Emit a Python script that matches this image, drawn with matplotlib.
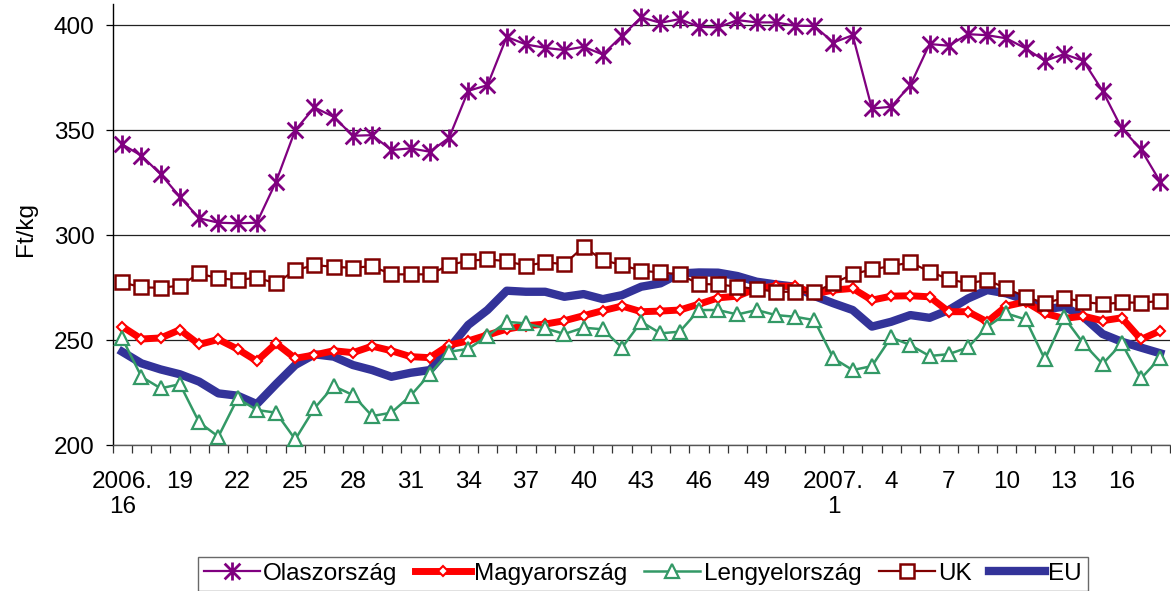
import matplotlib
matplotlib.use('Agg')
import matplotlib.pyplot as plt
from matplotlib.path import Path
import numpy as np

# ----------------------------------------------------------------------------------------------------------------------
#  DATA  (weekly prices, Ft/kg, 2006 week 16 - 2007 week 18)
# ----------------------------------------------------------------------------------------------------------------------
weeks_2006 = list(range(16, 53))
weeks_2007 = list(range(1, 19))

olaszorszag = [343.2, 337.8, 329.0, 318.2, 308.0, 305.9, 305.6, 305.9, 325.4, 350.0,
               360.8, 356.3, 347.3, 347.6, 340.5, 341.3, 339.7, 346.3, 368.7, 371.4,
               394.4, 390.8, 389.2, 388.1, 389.7, 386.0, 394.9, 403.7, 401.1, 402.9,
               399.2, 398.9, 402.4, 401.3, 401.3, 399.7, 399.6, 391.7, 395.2, 360.3,
               361.1, 371.4, 391.0, 390.2, 395.7, 395.2, 393.7, 388.9, 383.0, 386.2,
               383.0, 368.7, 350.8, 340.8, 325.4]

magyarorszag = [256.4, 250.5, 251.0, 254.9, 247.9, 250.3, 245.7, 240.0, 248.4, 241.3,
                242.9, 244.9, 244.0, 247.1, 244.9, 242.1, 241.6, 247.6, 249.6, 252.4,
                255.2, 256.8, 257.6, 259.2, 261.6, 264.0, 266.2, 263.5, 263.8, 264.3,
                267.1, 270.1, 270.9, 274.6, 275.7, 275.7, 272.0, 273.8, 274.6, 269.0,
                270.9, 271.1, 270.6, 263.5, 263.5, 258.7, 266.2, 268.2, 262.7, 260.3,
                261.4, 259.2, 260.6, 250.3, 254.4]

lengyelorszag = [250.8, 232.5, 227.0, 229.0, 210.8, 204.0, 222.2, 216.7, 215.4, 202.7,
                 217.5, 228.1, 223.8, 213.8, 215.4, 223.5, 233.8, 244.4, 245.8, 251.9,
                 258.7, 257.9, 255.6, 252.9, 255.9, 255.1, 246.4, 258.7, 253.2, 254.0,
                 264.3, 264.3, 262.2, 264.3, 261.9, 261.1, 259.5, 241.3, 235.7, 237.6,
                 251.3, 247.6, 242.4, 243.3, 246.5, 256.3, 262.7, 259.8, 240.8, 260.8,
                 248.4, 238.6, 248.4, 231.7, 241.6]

uk = [277.5, 275.1, 274.9, 275.9, 281.7, 279.4, 278.6, 279.7, 277.0, 283.3,
      285.7, 284.9, 284.4, 285.2, 281.3, 281.3, 281.3, 285.7, 287.8, 288.4,
      287.6, 285.4, 287.0, 286.2, 294.4, 288.1, 285.7, 283.0, 282.2, 281.3,
      276.7, 276.5, 275.4, 274.3, 273.0, 273.0, 272.8, 277.0, 281.3, 283.7,
      285.2, 287.0, 282.6, 279.0, 277.0, 278.6, 274.6, 270.6, 267.5, 270.1,
      268.2, 267.1, 267.9, 267.8, 268.6]

eu = [244.4, 238.9, 236.0, 233.7, 230.2, 224.6, 223.5, 219.5, 229.0, 238.1,
      243.2, 242.1, 238.1, 235.7, 232.5, 234.4, 235.7, 246.0, 257.2, 264.3,
      273.5, 273.0, 273.0, 270.6, 271.9, 269.5, 271.4, 275.4, 277.0, 281.7,
      282.2, 282.1, 280.5, 277.8, 276.5, 275.4, 271.0, 267.5, 264.3, 256.4,
      258.7, 261.9, 260.6, 264.3, 269.8, 273.8, 272.2, 269.0, 264.6, 265.9,
      261.1, 252.9, 249.2, 246.4, 243.7]

# ----------------------------------------------------------------------------------------------------------------------
#  FIGURE
# ----------------------------------------------------------------------------------------------------------------------
plt.rcParams['font.family'] = ['Liberation Sans', 'DejaVu Sans']
font_size = 17.5

x = np.arange(len(weeks_2006) + len(weeks_2007))

# category labels, every third week, restarting at the turn of the year
label_pos = []
label_txt = []
for k, w in enumerate(weeks_2006):
    if k % 3 == 0 and w <= 49:
        label_pos.append(k)
        label_txt.append('2006.\n%d' % w if k == 0 else str(w))
for k, w in enumerate(weeks_2007):
    if k % 3 == 0:
        label_pos.append(len(weeks_2006) + k)
        label_txt.append('2007.\n%d' % w if k == 0 else str(w))

# asterisk marker (x plus vertical bar)
star = Path([(-1, -1), (1, 1), (-1, 1), (1, -1), (0, -1.15), (0, 1.15)],
            [Path.MOVETO, Path.LINETO] * 3)

fig = plt.figure(figsize=(11.71, 5.91), dpi=100)
ax = fig.add_axes([0.0962, 0.247, 0.9028, 0.746])

ax.plot(x, olaszorszag, color='#800080', linewidth=1.6, marker=star, markersize=13,
        markeredgewidth=2.0, markerfacecolor='none', label='Olaszország', zorder=6, clip_on=False)
ax.plot(x, magyarorszag, color='#FF0000', linewidth=5, marker='D', markersize=5.5,
        markerfacecolor='white', markeredgecolor='#FF0000', markeredgewidth=1.5,
        label='Magyarország', zorder=3, clip_on=False)
ax.plot(x, lengyelorszag, color='#339966', linewidth=1.8, marker='^', markersize=10,
        markerfacecolor='white', markeredgecolor='#339966', markeredgewidth=1.6,
        label='Lengyelország', zorder=4, clip_on=False)
ax.plot(x, uk, color='#800000', linewidth=1.6, marker='s', markersize=10,
        markerfacecolor='white', markeredgecolor='#800000', markeredgewidth=1.8,
        label='UK', zorder=5, clip_on=False)
ax.plot(x, eu, color='#333399', linewidth=6, label='EU', zorder=2, clip_on=False)

ax.set_xlim(-0.5, len(x) - 0.5)
ax.set_ylim(200, 410)
ax.set_yticks([200, 250, 300, 350, 400])
ax.yaxis.grid(True, color='#222222', linewidth=0.9)
ax.set_axisbelow(True)

ax.set_xticks(label_pos)
ax.set_xticklabels(label_txt, fontsize=font_size, linespacing=1.15, va='top')
ax.set_xticks(np.arange(-0.5, len(x), 1.0), minor=True)
ax.tick_params(axis='x', which='major', length=0, pad=19)
ax.tick_params(axis='x', which='minor', length=6, width=0.9, direction='out', color='#333333')
ax.tick_params(axis='y', labelsize=font_size, length=5, width=0.9, direction='out', pad=8)

for side in ['top', 'right']:
    ax.spines[side].set_visible(False)
ax.spines['left'].set_linewidth(1.0)
ax.spines['bottom'].set_linewidth(1.0)
ax.spines['bottom'].set_color('#555555')

ax.set_ylabel('Ft/kg', fontsize=font_size)
ax.yaxis.set_label_coords(-0.072, 0.49)

leg = fig.legend(loc='upper center', bbox_to_anchor=(0.549, 0.058), ncol=5, fontsize=font_size,
                 frameon=True, fancybox=False, handlelength=2.3, handletextpad=0.15,
                 columnspacing=0.7, borderpad=0.25, borderaxespad=0)
leg.get_frame().set_edgecolor('#444444')
leg.get_frame().set_linewidth(1.0)

fig.savefig('out.png', dpi=100)
